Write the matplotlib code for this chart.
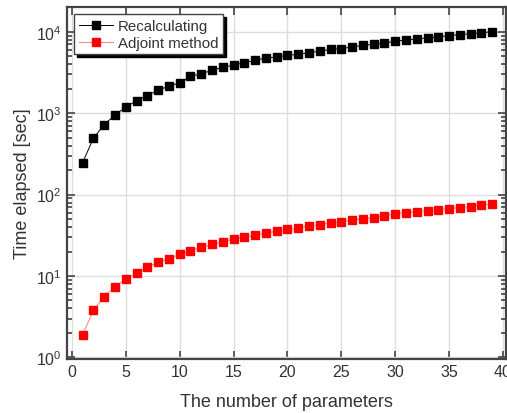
import matplotlib.pyplot as plt
import numpy as np

plt.rcParams['font.family'] = ['Liberation Sans', 'DejaVu Sans']

params = np.arange(1, 40)
recalculating = [248, 495, 724, 955, 1186, 1432, 1652, 1923, 2155, 2365,
                 2836, 3060, 3366, 3664, 3917, 4180, 4467, 4775, 4910, 5150,
                 5300, 5560, 5770, 6110, 6225, 6530, 6840, 7040, 7310, 7670,
                 7960, 8200, 8440, 8670, 9010, 9270, 9450, 9720, 10100]
adjoint = [1.90, 3.77, 5.58, 7.40, 9.19, 10.9, 12.8, 14.7, 16.4, 18.4,
           20.4, 22.4, 24.4, 26.3, 28.4, 30.0, 31.8, 33.6, 35.6, 37.3,
           38.7, 41.0, 42.9, 44.6, 46.3, 48.5, 50.4, 52.3, 54.8, 58.5,
           60.2, 62.0, 63.7, 65.5, 67.4, 69.3, 71.3, 74.0, 76.3]

fig = plt.figure(figsize=(5.07, 4.14), dpi=100)
ax = fig.add_axes([0.132, 0.130, 0.866, 0.851])

ax.plot(params, recalculating, color='black', lw=0.7, marker='s', ms=5.6,
        mfc='black', mec='black', label='Recalculating')
ax.plot(params, adjoint, color='#ff8080', lw=0.7, marker='s', ms=5.6,
        mfc='red', mec='red', label='Adjoint method')

ax.set_yscale('log')
ax.set_xlim(-0.46, 40.28)
ax.set_ylim(0.95, 2.03e4)
ax.set_xticks(range(0, 41, 5))
ax.grid(True, which='major', color='#dddddd', lw=1)
ax.set_axisbelow(True)

txt = '#333333'
for s in ax.spines.values():
    s.set_color('#444444')
    s.set_linewidth(1.6)
ax.tick_params(which='both', direction='in', top=True, right=True,
               colors='#444444', labelcolor=txt, labelsize=11.5, width=1.2)
ax.tick_params(which='major', length=6)
ax.tick_params(which='minor', length=3.5)

ax.set_xlabel('The number of parameters', fontsize=13, color=txt, labelpad=10)
ax.set_ylabel('Time elapsed [sec]', fontsize=13, color=txt, labelpad=4)

leg = ax.legend(loc='upper left', fontsize=10.8, frameon=True, fancybox=False,
                shadow={'color': 'black', 'alpha': 1}, borderpad=0.3,
                handlelength=2.3, handletextpad=0.3, labelspacing=0.2,
                borderaxespad=0.5, labelcolor=txt)
leg.get_frame().set_edgecolor('#444444')
leg.get_frame().set_linewidth(1.0)

fig.savefig('out.png', dpi=100)
